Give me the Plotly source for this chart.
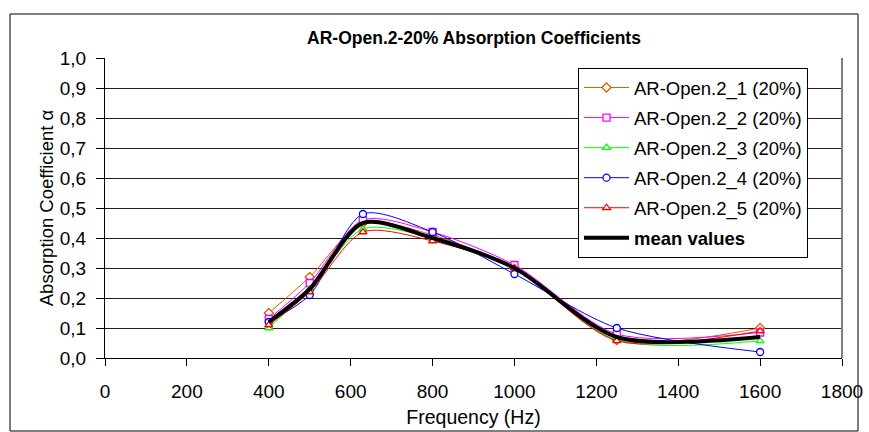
import plotly.graph_objects as go

freq = [400, 500, 630, 800, 1000, 1250, 1600]
s1 = [0.15, 0.27, 0.45, 0.41, 0.30, 0.06, 0.10]
s2 = [0.13, 0.25, 0.46, 0.42, 0.31, 0.08, 0.085]
s3 = [0.10, 0.23, 0.43, 0.40, 0.30, 0.06, 0.057]
s4 = [0.12, 0.21, 0.48, 0.42, 0.28, 0.10, 0.02]
s5 = [0.11, 0.22, 0.42, 0.39, 0.30, 0.057, 0.09]
mean_vals = [0.12, 0.23, 0.45, 0.40, 0.30, 0.07, 0.07]

names = ["AR-Open.2_1 (20%)", "AR-Open.2_2 (20%)", "AR-Open.2_3 (20%)",
         "AR-Open.2_4 (20%)", "AR-Open.2_5 (20%)"]
series = [s1, s2, s3, s4, s5]
colors = ["#CC6600", "#FF00FF", "#00FF00", "#0000FF", "#FF0000"]
symbols = ["diamond", "square", "triangle-up", "circle", "triangle-up"]

yticks = [i / 10 for i in range(11)]
yticklabels = [f"{v:.1f}".replace(".", ",") for v in yticks]
xticks = list(range(0, 2000, 200))

fig = go.Figure()
for i, (nm, s, c, sym) in enumerate(zip(names, series, colors, symbols)):
    fig.add_trace(go.Scatter(
        x=freq, y=s, name=nm, mode="lines+markers",
        line=dict(color=c, width=1, shape="spline", smoothing=0.8),
        marker=dict(symbol=sym, size=7, color="white", line=dict(color=c, width=1.3)),
        legendgroup=f"g{i}",
    ))
fig.add_trace(go.Scatter(
    x=freq, y=mean_vals, name="<b>mean values</b>", mode="lines",
    line=dict(color="black", width=4, shape="spline", smoothing=0.8),
    legendgroup="g5",
))

W, H = 869, 432
L, R, T, B = 105, 842, 58, 358
def px(xp):
    return (xp - L) / (R - L)
def py(yp):
    return (B - yp) / (B - T)

fig.update_layout(
    width=W, height=H,
    margin=dict(l=L, r=W - R, t=T, b=H - B),
    paper_bgcolor="white", plot_bgcolor="white",
    font=dict(family="Liberation Sans, Arial, sans-serif", size=19, color="black"),
    title=dict(text="<b>AR-Open.2-20% Absorption Coefficients</b>",
               x=px(474), xref="paper", xanchor="center", y=1 - 38 / H, yanchor="middle",
               font=dict(size=17.5, color="black")),
    showlegend=True,
    legend=dict(x=px(578), y=py(68), xanchor="left", yanchor="top",
                bgcolor="white", bordercolor="black", borderwidth=1,
                font=dict(size=18.5, color="black"), tracegroupgap=3,
                itemwidth=45),
    xaxis=dict(range=[0, 1800], tickvals=xticks, ticks="outside", ticklen=7,
               tickcolor="black", showline=True, linecolor="black", linewidth=1,
               showgrid=False, zeroline=False, mirror=False, automargin=False,
               ticklabelstandoff=9,
               title=dict(text="Frequency (Hz)", font=dict(size=19.5), standoff=9),
               tickfont=dict(size=19)),
    yaxis=dict(range=[0, 1.0], tickvals=yticks, ticktext=yticklabels,
               ticks="outside", ticklen=8, tickcolor="black",
               showline=True, linecolor="black", linewidth=1,
               showgrid=True, gridcolor="#202020", gridwidth=1, zeroline=False,
               automargin=False, ticklabelstandoff=6,
               title=dict(text="Absorption Coefficient α", font=dict(size=18.5), standoff=1),
               tickfont=dict(size=19)),
    shapes=[
        dict(type="rect", xref="paper", yref="paper", x0=px(10), x1=px(858),
             y0=py(431), y1=py(14), line=dict(color="black", width=1),
             fillcolor="rgba(0,0,0,0)", layer="below"),
        dict(type="line", xref="paper", yref="paper", x0=1, x1=1, y0=0, y1=1,
             line=dict(color="#808080", width=2)),
        dict(type="rect", xref="paper", yref="paper", x0=px(581), x1=px(808),
             y0=py(258), y1=py(71), line=dict(width=0), fillcolor="#808080",
             layer="above"),
    ],
)

fig.write_html("out.html")
